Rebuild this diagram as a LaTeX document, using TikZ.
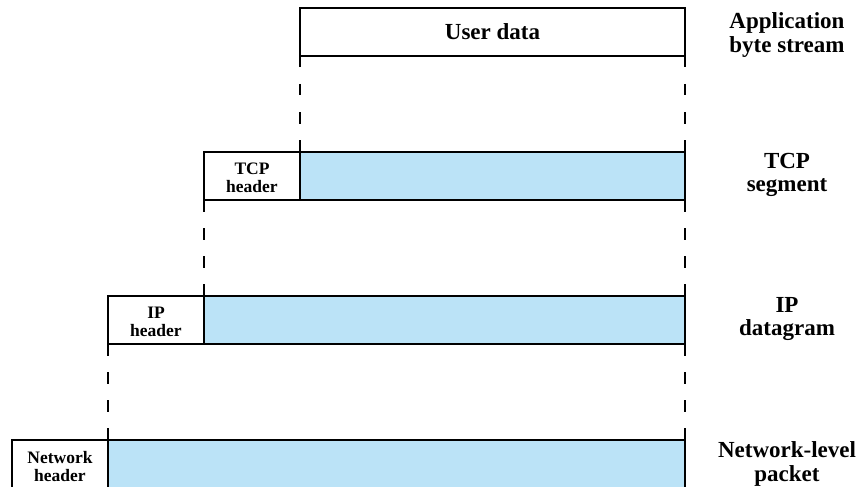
\documentclass[tikz,border=0pt]{standalone}
\usepackage{fontspec}
\setmainfont{Liberation Serif}
\definecolor{payloadblue}{RGB}{187,227,247}
% extra head room so two-line header labels sit a little lower in their box
\newcommand{\hdrtop}{\rule{0pt}{15.5pt}}
\begin{document}
\begin{tikzpicture}[x=1pt,y=-1pt,
  box/.style={draw=black, line width=2pt, inner sep=0pt, outer sep=0pt,
    anchor=north west, minimum height=48pt, align=center,
    font=\bfseries\fontsize{17.5}{18}\selectfont},
  payload/.style={box, fill=payloadblue},
  level/.style={align=center, font=\bfseries\fontsize{23}{23.5}\selectfont},
  guide/.style={line width=1.2pt, dash pattern=on 11.5pt off 16.5pt}]
\useasboundingbox (0,0) rectangle (860,487);
\clip (0,0) rectangle (860,487);

% application data
\node[box, minimum width=385pt, font=\bfseries\fontsize{23}{23.5}\selectfont]
  (user) at (300,8) {User data};

% TCP segment
\node[box, minimum width=96pt] (tcph) at (204,152) {\hdrtop TCP\\header};
\node[payload, minimum width=385pt] (tcpd) at (300,152) {};

% IP datagram
\node[box, minimum width=96pt] (iph) at (108,296) {\hdrtop IP\\header};
\node[payload, minimum width=481pt] (ipd) at (204,296) {};

% network-level packet (runs off the lower edge)
\node[box, minimum width=96pt, minimum height=49pt] (neth) at (12,440) {\hdrtop Network\\header};
\node[payload, minimum width=577pt, minimum height=49pt] (netd) at (108,440) {};

% encapsulation guides
\draw[guide] (user.south west) -- (tcpd.north west);
\draw[guide] (user.south east) -- (tcpd.north east);
\draw[guide] (tcph.south west) -- (ipd.north west);
\draw[guide] (tcpd.south east) -- (ipd.north east);
\draw[guide] (iph.south west) -- (netd.north west);
\draw[guide] (ipd.south east) -- (netd.north east);

% layer names
\node[level] (lapp) at (787,35) {Application\\byte stream};
\node[level] (ltcp) at (787,175) {TCP\\segment};
\node[level] (lip) at (787,319) {IP\\datagram};
\node[level] (lnet) at (787,464) {Network-level\\packet};
\end{tikzpicture}
\end{document}
